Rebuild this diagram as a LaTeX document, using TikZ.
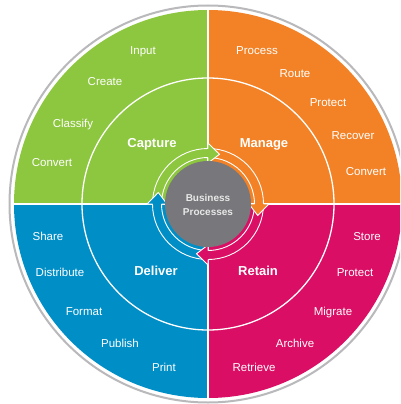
\documentclass[tikz,border=0pt]{standalone}
\usepackage{fontspec}
\setmainfont{Liberation Sans}
\definecolor{cgreen}{RGB}{141,198,63}
\definecolor{corange}{RGB}{243,130,38}
\definecolor{cmag}{RGB}{218,14,100}
\definecolor{cblue}{RGB}{0,142,198}
\definecolor{cgray}{RGB}{120,120,124}
\definecolor{cring}{RGB}{185,185,188}
\definecolor{ctext}{RGB}{232,232,232}
\newcommand{\arrband}[3]{%
  \fill[#1] (#2:46.5) arc[start angle=#2,end angle=#3,radius=46.5] -- (#3:55.5) arc[start angle=#3,end angle=#2,radius=55.5] -- cycle;
  \draw[bandline] (#2:46.5) arc[start angle=#2,end angle=#3,radius=46.5];
  \draw[bandline] (#2:55.5) arc[start angle=#2,end angle=#3,radius=55.5];
}
\newcommand{\arrhead}[2]{%
  \fill[#1] (#2:41) -- ({#2-13}:51) -- (#2:61) -- cycle;
  \draw[bandline,line join=miter] (#2:46.5) -- (#2:41) -- ({#2-13}:51) -- (#2:61) -- (#2:55.5);
}
\begin{document}
\begin{tikzpicture}[x=1pt,y=1pt,
  bandline/.style={white,line width=0.9pt},
  outerlbl/.style={text=white,font=\fontsize{11.5}{12}\selectfont,inner sep=0pt,text height=1.5ex,text depth=0.25ex},
  innerlbl/.style={text=white,font=\fontsize{13}{14}\selectfont\bfseries,inner sep=0pt,text height=1.5ex,text depth=0.25ex},
  centerlbl/.style={text=ctext,font=\fontsize{10}{11}\selectfont\bfseries,inner sep=0pt,text height=1.5ex,text depth=0.25ex}]
\useasboundingbox (0,0) rectangle (400,-404);
\clip (0,0) rectangle (400,-404);
\fill[white] (0,0) rectangle (400,-404);
\coordinate (c) at (208,-204);
\begin{scope}[shift={(c)}]
  \draw[cring,line width=2pt] (0,0) circle[radius=198.5];
  \fill[cgreen] (0,0) -- (180:194) arc[start angle=180,end angle=90,radius=194] -- cycle;
  \fill[corange] (0,0) -- (90:194) arc[start angle=90,end angle=0,radius=194] -- cycle;
  \fill[cmag] (0,0) -- (0:194) arc[start angle=0,end angle=-90,radius=194] -- cycle;
  \fill[cblue] (0,0) -- (-90:194) arc[start angle=-90,end angle=-180,radius=194] -- cycle;
  \draw[white,line width=2.4pt] (-195,0) -- (195,0);
  \draw[white,line width=2.4pt] (0,195) -- (0,-195);
  \draw[white,line width=1.3pt] (0,0) circle[radius=126];
  \arrband{cgreen}{180}{90}
  \arrband{corange}{90}{0}
  \arrband{cmag}{0}{-90}
  \arrband{cblue}{-90}{-180}
  \arrhead{cgreen}{90}
  \arrhead{corange}{0}
  \arrhead{cmag}{-90}
  \arrhead{cblue}{-180}
  \fill[cgray] (0,0) circle[radius=43];
\end{scope}
% outer labels
\node[outerlbl] (input) at (143,-51) {Input};
\node[outerlbl] (create) at (105,-82) {Create};
\node[outerlbl] (classify) at (73,-124) {Classify};
\node[outerlbl] (convert1) at (52,-163) {Convert};
\node[outerlbl] (process) at (257,-51) {Process};
\node[outerlbl] (route) at (295,-74) {Route};
\node[outerlbl] (protect1) at (328,-103) {Protect};
\node[outerlbl] (recover) at (353,-136) {Recover};
\node[outerlbl] (convert2) at (366,-172) {Convert};
\node[outerlbl] (store) at (367,-237) {Store};
\node[outerlbl] (protect2) at (355,-273) {Protect};
\node[outerlbl] (migrate) at (333,-312) {Migrate};
\node[outerlbl] (archive) at (295,-344) {Archive};
\node[outerlbl] (retrieve) at (254,-368) {Retrieve};
\node[outerlbl] (share) at (48,-237) {Share};
\node[outerlbl] (distribute) at (60,-273) {Distribute};
\node[outerlbl] (format) at (84,-312) {Format};
\node[outerlbl] (publish) at (120,-344) {Publish};
\node[outerlbl] (print) at (164,-368) {Print};
% inner labels
\node[innerlbl] (capture) at (152,-144) {Capture};
\node[innerlbl] (manage) at (264,-144) {Manage};
\node[innerlbl] (deliver) at (156,-272) {Deliver};
\node[innerlbl] (retain) at (258,-272) {Retain};
% center
\node[centerlbl] (business) at (208,-198) {Business};
\node[centerlbl] (processes) at (208,-212) {Processes};
\end{tikzpicture}
\end{document}
